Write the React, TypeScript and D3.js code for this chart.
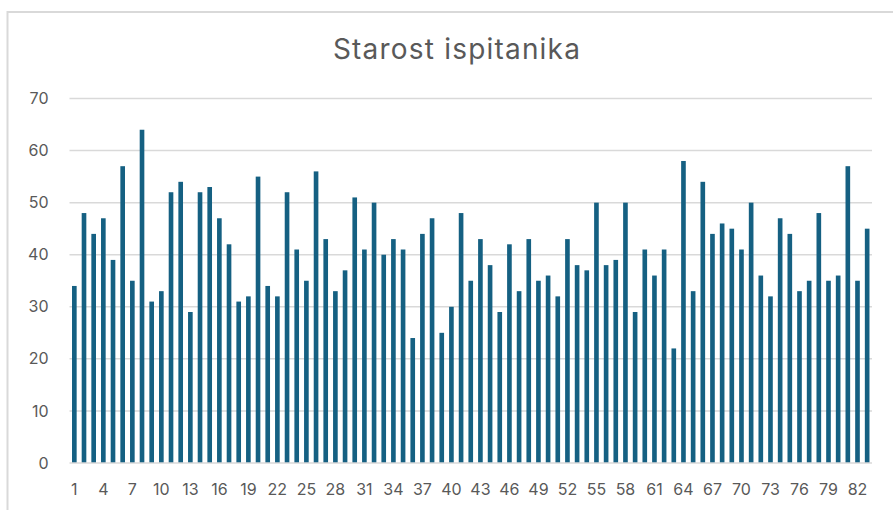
import { useEffect, useRef } from 'react';
import * as d3 from 'd3';

// Age of each respondent (ispitanik 1..83)
const respondents = d3.range(1, 84).map(String);
const ages = [
  34, 48, 44, 47, 39, 57, 35, 64, 31, 33,
  52, 54, 29, 52, 53, 47, 42, 31, 32, 55,
  34, 32, 52, 41, 35, 56, 43, 33, 37, 51,
  41, 50, 40, 43, 41, 24, 44, 47, 25, 30,
  48, 35, 43, 38, 29, 42, 33, 43, 35, 36,
  32, 43, 38, 37, 50, 38, 39, 50, 29, 41,
  36, 41, 22, 58, 33, 54, 44, 46, 45, 41,
  50, 36, 32, 47, 44, 33, 35, 48, 35, 36,
  57, 35, 45,
];
const yTicks = [0, 10, 20, 30, 40, 50, 60, 70];

const title = 'Starost ispitanika';

export default function App() {
  const svgRef = useRef<SVGSVGElement>(null);
  const width = 893;
  const height = 510;

  useEffect(() => {
    const svg = d3.select(svgRef.current);
    svg.selectAll('*').remove();

    const margin = { top: 98.5, right: 21, bottom: 47, left: 69.5 };
    const innerWidth = width - margin.left - margin.right;
    const innerHeight = height - margin.top - margin.bottom;
    const font = 'Inter, "Open Sans", sans-serif';
    const textColor = '#595959';

    // chart frame (right and bottom edges fall outside the picture)
    svg.append('rect')
      .attr('x', 7.5)
      .attr('y', 12)
      .attr('width', 950)
      .attr('height', 600)
      .attr('fill', '#fff')
      .attr('stroke', '#d9d9d9')
      .attr('stroke-width', 2);

    svg.append('text')
      .attr('x', 457)
      .attr('y', 59)
      .attr('text-anchor', 'middle')
      .style('font-family', font)
      .style('font-size', '28px')
      .style('letter-spacing', '1.2px')
      .style('fill', textColor)
      .text(title);

    const x = d3.scaleBand()
      .domain(respondents)
      .range([0, innerWidth])
      .paddingInner(0.52)
      .paddingOuter(0.26);

    const y = d3.scaleLinear()
      .domain([0, 70])
      .range([innerHeight, 0]);

    const g = svg.append('g')
      .attr('transform', `translate(${margin.left},${margin.top})`);

    // grid lines
    g.selectAll('.grid')
      .data(yTicks.filter(d => d > 0))
      .enter().append('line')
      .attr('class', 'grid')
      .attr('x1', 0)
      .attr('x2', innerWidth)
      .attr('y1', d => y(d))
      .attr('y2', d => y(d))
      .style('stroke', '#d9d9d9')
      .style('stroke-width', 1.5);

    g.selectAll('.bar')
      .data(ages)
      .enter().append('rect')
      .attr('class', 'bar')
      .attr('x', (d, i) => x(respondents[i])!)
      .attr('width', x.bandwidth())
      .attr('y', d => y(d))
      .attr('height', d => innerHeight - y(d))
      .attr('fill', '#156082');

    // baseline
    g.append('line')
      .attr('x1', 0)
      .attr('x2', innerWidth)
      .attr('y1', innerHeight)
      .attr('y2', innerHeight)
      .style('stroke', '#d9d9d9')
      .style('stroke-width', 1.5);

    // y labels
    g.selectAll('.ylab')
      .data(yTicks)
      .enter().append('text')
      .attr('class', 'ylab')
      .attr('x', -21)
      .attr('y', d => y(d))
      .attr('dy', '0.35em')
      .attr('text-anchor', 'end')
      .style('font-family', font)
      .style('font-size', '16px')
      .style('fill', textColor)
      .text(d => d);

    // x labels, every third respondent
    g.selectAll('.xlab')
      .data(respondents.filter((d, i) => i % 3 === 0))
      .enter().append('text')
      .attr('class', 'xlab')
      .attr('x', d => x(d)! + x.bandwidth() / 2)
      .attr('y', innerHeight + 32)
      .attr('text-anchor', 'middle')
      .style('font-family', font)
      .style('font-size', '16px')
      .style('fill', textColor)
      .text(d => d);
  }, []);

  return (
    <svg
      ref={svgRef}
      width={width}
      height={height}
      style={{ position: 'absolute', left: 0, top: 0, background: '#fff' }}
    />
  );
}
